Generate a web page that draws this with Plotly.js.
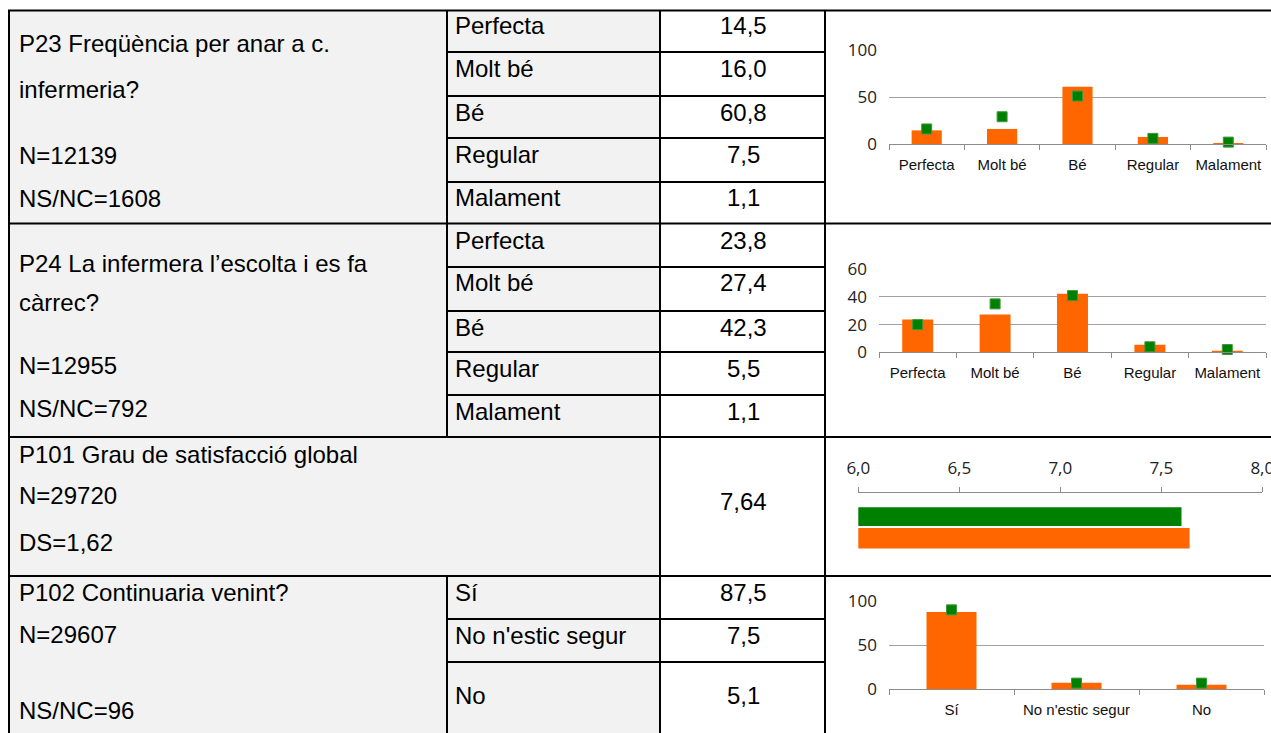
<!DOCTYPE html>
<html>
<head>
<meta charset="utf-8">
<script src="https://cdn.plot.ly/plotly-3.0.1.min.js"></script>
<style>html,body{margin:0;padding:0;background:#fff;}#chart{width:1271px;height:733px;}</style>
</head>
<body>
<div id="chart"></div>
<script>
// ---------------- DATA ----------------
const p23Question = ['P23 Freqüència per anar a c.', 'infermeria?'];
const p23Stats = ['N=12139', 'NS/NC=1608'];
const p23Categories = ['Perfecta', 'Molt bé', 'Bé', 'Regular', 'Malament'];
const p23Values = [14.5, 16.0, 60.8, 7.5, 1.1];
const p23Reference = [16, 29, 51, 6, 2];

const p24Question = ['P24 La infermera l\u2019escolta i es fa', 'càrrec?'];
const p24Stats = ['N=12955', 'NS/NC=792'];
const p24Categories = ['Perfecta', 'Molt bé', 'Bé', 'Regular', 'Malament'];
const p24Values = [23.8, 27.4, 42.3, 5.5, 1.1];
const p24Reference = [20, 35, 41, 4, 2];

const p101Question = ['P101 Grau de satisfacció global'];
const p101Stats = ['N=29720', 'DS=1,62'];
const p101Value = [7.64];
const p101Reference = [7.60];
const p101Ticks = [6.0, 6.5, 7.0, 7.5, 8.0];

const p102Question = ['P102 Continuaria venint?'];
const p102Stats = ['N=29607', 'NS/NC=96'];
const p102Categories = ['Sí', "No n'estic segur", 'No'];
const p102Values = [87.5, 7.5, 5.1];
const p102Reference = [90, 7, 7];

// ---------------- LAYOUT HELPERS ----------------
const W = 1271, H = 733;
const px = x => x / W;
const py = y => 1 - y / H;
const ORANGE = '#FF6600', GREEN = '#008000';
const fmt1 = v => v.toFixed(1).replace('.', ',');
const fmt2 = v => v.toFixed(2).replace('.', ',');
const TXT = {family: 'Liberation Sans, Arial, sans-serif', size: 24, color: '#000'};

const shapes = [];
const annotations = [];
function hline(x0, x1, y) {
  shapes.push({type: 'line', xref: 'paper', yref: 'paper', x0: px(x0), x1: px(x1), y0: py(y), y1: py(y), line: {color: '#000', width: 2}});
}
function vline(x, y0, y1) {
  shapes.push({type: 'line', xref: 'paper', yref: 'paper', x0: px(x), x1: px(x), y0: py(y0), y1: py(y1), line: {color: '#000', width: 2}});
}
function txt(text, x, y, anchor) {
  annotations.push({text: text, xref: 'paper', yref: 'paper', x: px(x), y: py(y), xanchor: anchor || 'left', yanchor: 'middle', showarrow: false, font: TXT});
}

// gray background of the first two columns
shapes.push({type: 'rect', xref: 'paper', yref: 'paper', x0: px(9), x1: px(660), y0: py(10), y1: py(733), fillcolor: '#F2F2F2', line: {width: 0}, layer: 'below'});

// borders
[10.5, 223.5, 437, 576].forEach(y => hline(8, W, y));
[52, 96, 138, 182, 267, 311, 352, 395, 619, 662].forEach(y => hline(447, 825, y));
vline(9, 10, 733);
vline(825, 10, 733);
vline(660, 10, 733);
vline(447, 10, 437);
vline(447, 576, 733);

// ---- text: P23 ----
const colLX = 17, col2X = 453, col3X = 743;
txt(p23Question[0], colLX, 43);
txt(p23Question[1], colLX, 89);
txt(p23Stats[0], colLX, 156);
txt(p23Stats[1], colLX, 199);
const p23RowTop = [10, 52, 96, 138, 182];
p23Categories.forEach((c, i) => { txt(c, col2X, p23RowTop[i] + 16); txt(fmt1(p23Values[i]), col3X, p23RowTop[i] + 16, 'center'); });

// ---- text: P24 ----
txt(p24Question[0], colLX, 263);
txt(p24Question[1], colLX, 302);
txt(p24Stats[0], colLX, 365);
txt(p24Stats[1], colLX, 408);
const p24RowTop = [224, 267, 311, 352, 395];
p24Categories.forEach((c, i) => { txt(c, col2X, p24RowTop[i] + 16); txt(fmt1(p24Values[i]), col3X, p24RowTop[i] + 16, 'center'); });

// ---- text: P101 ----
txt(p101Question[0], colLX, 454);
txt(p101Stats[0], colLX, 495);
txt(p101Stats[1], colLX, 542);
txt(fmt2(p101Value[0]), col3X, 501, 'center');

// ---- text: P102 ----
txt(p102Question[0], colLX, 592);
txt(p102Stats[0], colLX, 634);
txt(p102Stats[1], colLX, 710);
const p102RowY = [592, 635, 695];
p102Categories.forEach((c, i) => { txt(c, col2X, p102RowY[i]); txt(fmt1(p102Values[i]), col3X, p102RowY[i], 'center'); });

// ---------------- TRACES ----------------
const markerRef = {symbol: 'square', size: 10, color: GREEN, line: {color: '#3C9A3C', width: 1}};
const traces = [
  {type: 'bar', x: p23Categories, y: p23Values, xaxis: 'x', yaxis: 'y', marker: {color: ORANGE}},
  {type: 'scatter', mode: 'markers', x: p23Categories, y: p23Reference, xaxis: 'x', yaxis: 'y', marker: markerRef, cliponaxis: false},
  {type: 'bar', x: p24Categories, y: p24Values, xaxis: 'x2', yaxis: 'y2', marker: {color: ORANGE}},
  {type: 'scatter', mode: 'markers', x: p24Categories, y: p24Reference, xaxis: 'x2', yaxis: 'y2', marker: markerRef, cliponaxis: false},
  {type: 'bar', orientation: 'h', x: p101Reference, y: [1], width: 0.86, xaxis: 'x3', yaxis: 'y3', marker: {color: GREEN}},
  {type: 'bar', orientation: 'h', x: p101Value, y: [0], width: 0.95, xaxis: 'x3', yaxis: 'y3', marker: {color: ORANGE}},
  {type: 'bar', x: p102Categories, y: p102Values, xaxis: 'x4', yaxis: 'y4', marker: {color: ORANGE}},
  {type: 'scatter', mode: 'markers', x: p102Categories, y: p102Reference, xaxis: 'x4', yaxis: 'y4', marker: markerRef, cliponaxis: false}
];

const catFont = {family: 'Liberation Sans, Arial, sans-serif', size: 15, color: '#111'};
const numFont = {family: 'Open Sans, sans-serif', size: 17, color: '#222'};
function catAxis(x0, x1, yAnchor) {
  return {domain: [px(x0), px(x1)], anchor: yAnchor, type: 'category', showline: true, linecolor: '#8C8C8C', linewidth: 1,
    ticks: 'outside', tickson: 'boundaries', ticklen: 5, tickcolor: '#8C8C8C', tickfont: catFont, tickangle: 0, ticklabelstandoff: 7,
    showgrid: false, fixedrange: true, zeroline: false};
}
function valAxis(y0, y1, xAnchor, range, dtick) {
  return {domain: [py(y0), py(y1)], anchor: xAnchor, range: range, dtick: dtick, showgrid: true, gridcolor: '#A0A0A0', gridwidth: 1,
    zeroline: false, showline: false, ticks: '', tickfont: numFont, ticklabelstandoff: 11, fixedrange: true};
}

const layout = {
  width: W, height: H,
  margin: {l: 0, r: 0, t: 0, b: 0},
  paper_bgcolor: '#fff', plot_bgcolor: 'rgba(0,0,0,0)',
  separators: ',.',
  showlegend: false,
  bargap: 0.6,
  barmode: 'overlay',
  xaxis: catAxis(889, 1266, 'y'),
  yaxis: valAxis(144, 50, 'x', [0, 100], 50),
  xaxis2: catAxis(879, 1266, 'y2'),
  yaxis2: valAxis(352.3, 269.3, 'x2', [0, 60], 20),
  xaxis3: {domain: [px(858.3), px(1262.3)], anchor: 'free', position: py(491.7), side: 'top', range: [6, 8],
    tickvals: p101Ticks, tickformat: '.1f', showline: true, linecolor: '#8C8C8C', ticks: 'outside', ticklen: 5, tickcolor: '#8C8C8C',
    showgrid: false, zeroline: false, tickfont: {family: 'Open Sans, sans-serif', size: 17, color: '#222'}, ticklabelstandoff: 6,
    ticklabeloverflow: 'allow', fixedrange: true},
  yaxis3: {domain: [py(549.15), py(505.85)], anchor: 'x3', range: [-0.5, 1.5], visible: false, fixedrange: true},
  xaxis4: catAxis(889, 1264, 'y4'),
  yaxis4: valAxis(689.3, 601, 'x4', [0, 100], 50),
  shapes: shapes,
  annotations: annotations
};

Plotly.newPlot('chart', traces, layout, {displayModeBar: false, staticPlot: true});
</script>
</body>
</html>
